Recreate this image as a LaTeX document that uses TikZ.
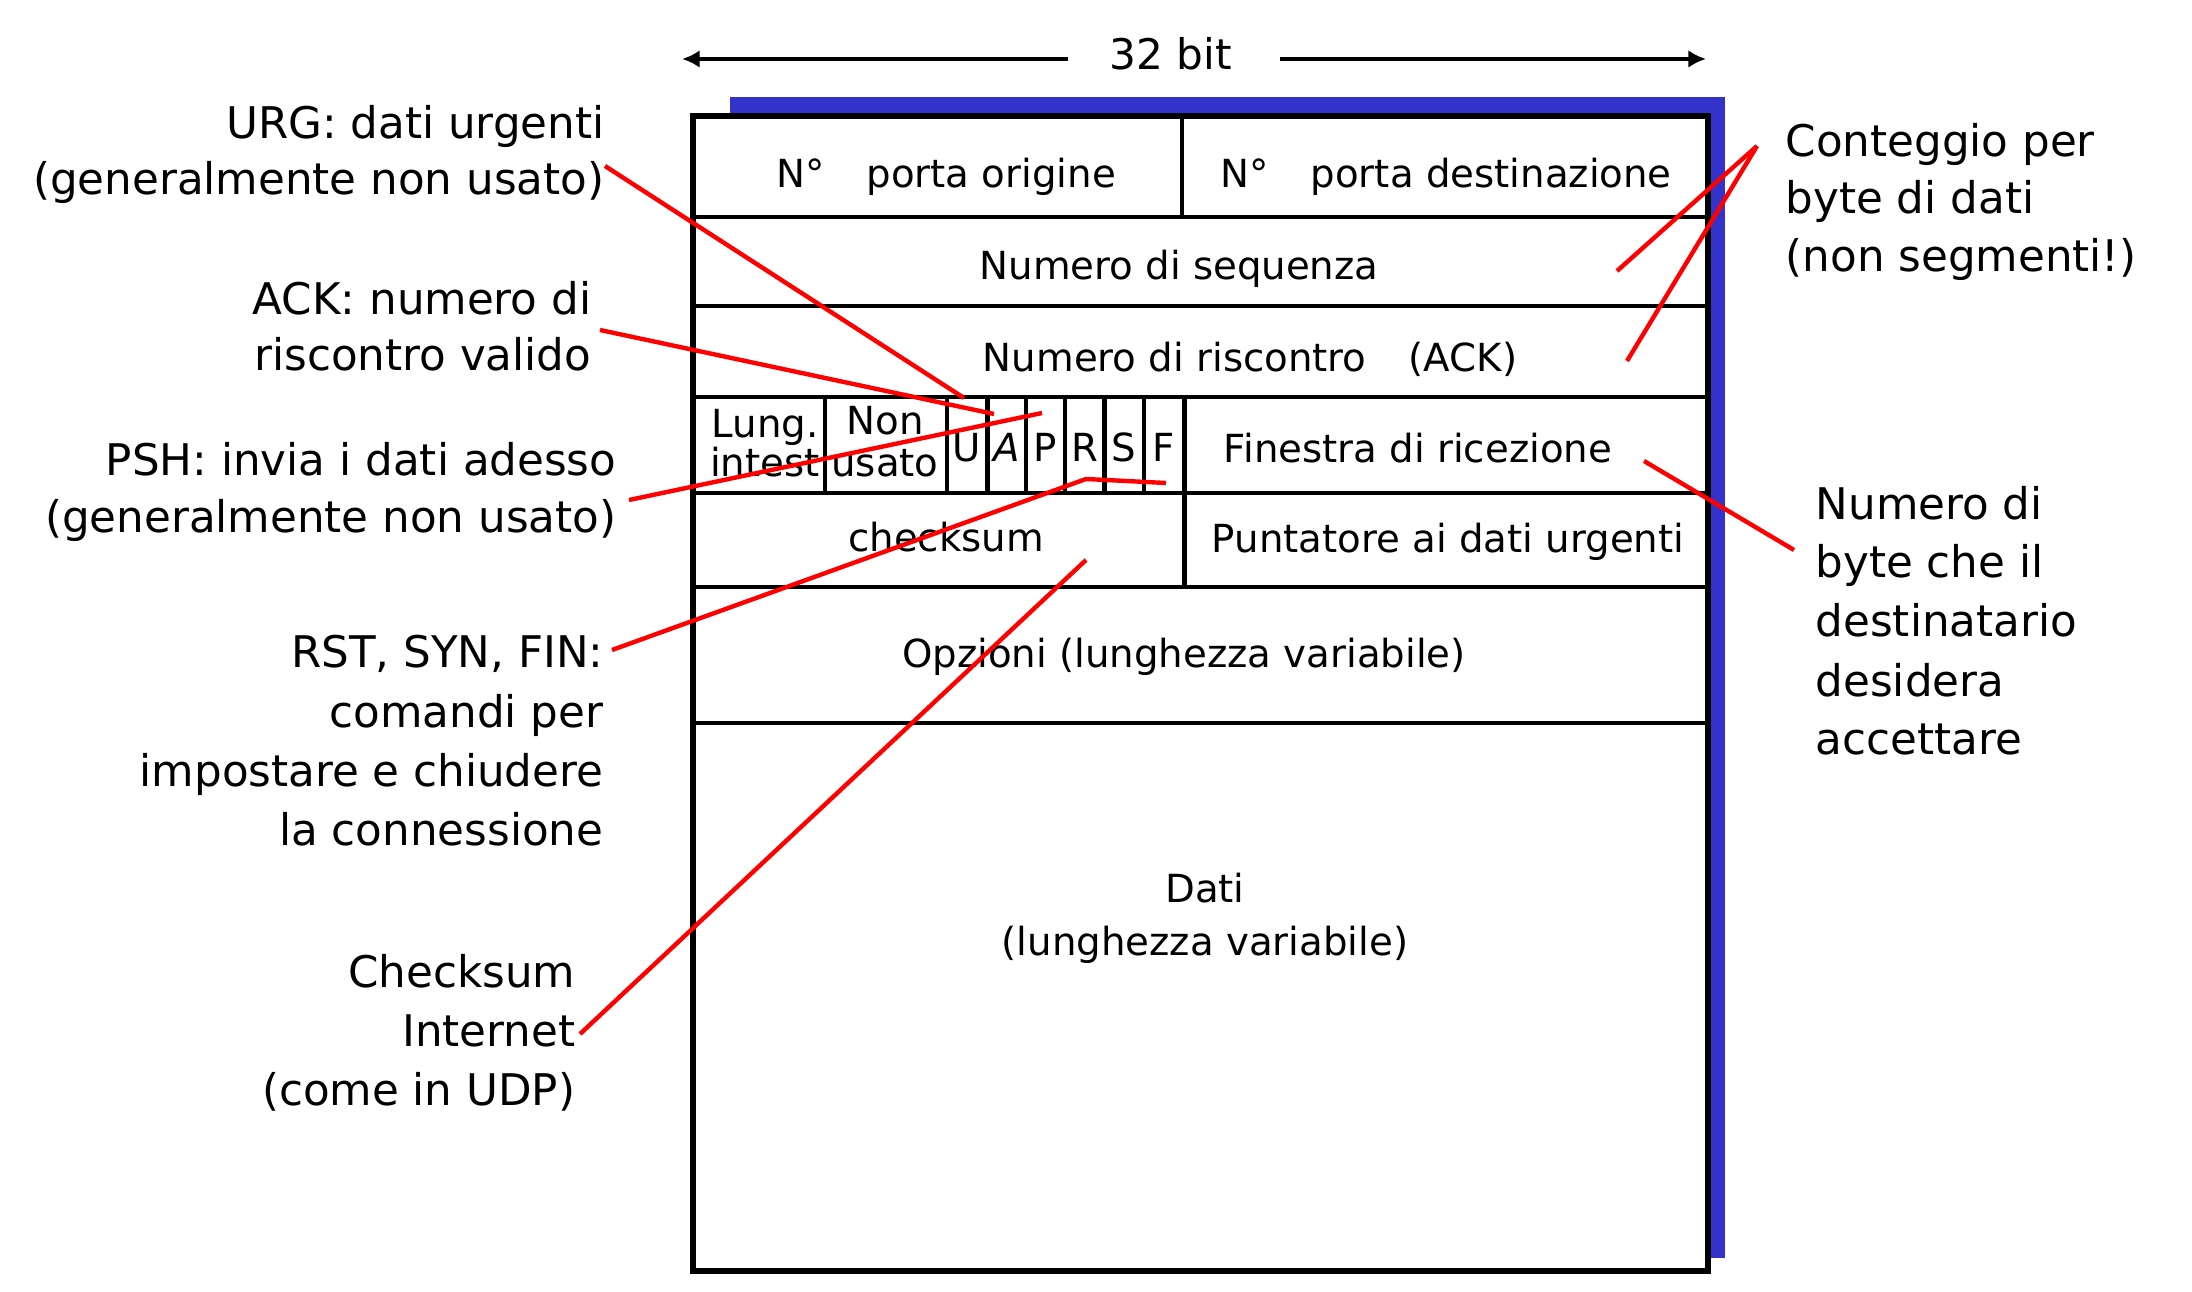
\documentclass[tikz,border=0pt]{standalone}
\usepackage{fontspec}
\setmainfont{DejaVu Sans}
\usetikzlibrary{arrows.meta}
\definecolor{shadowblue}{RGB}{51,51,204}
\definecolor{callred}{RGB}{255,0,0}
\begin{document}
\begin{tikzpicture}[x=0.01cm,y=-0.01cm,
  lbl/.style={inner sep=0pt, font=\fontsize{12.4}{15}\selectfont},
  lblL/.style={lbl, anchor=base east},
  lblR/.style={lbl, anchor=base west},
  cell/.style={inner sep=0pt, font=\fontsize{11}{13}\selectfont, anchor=base},
  outer/.style={line width=1.7pt},
  inner/.style={line width=1.25pt},
  thin/.style={line width=0.9pt},
  callout/.style={draw=callred, line width=1.25pt},
  dimline/.style={line width=1.2pt, -{Latex[length=5pt,width=5pt]}}]
\useasboundingbox (0,0) rectangle (2192,1292);
% shadow and box
\fill[shadowblue] (730,97) rectangle (1725,1258);
\draw[outer, fill=white] (693,116) rectangle (1707.5,1271);
% horizontal rows
\foreach \yy in {217,306,397,493,587,723}
  \draw[inner] (693,\yy) -- (1707.5,\yy);
% vertical dividers
\draw[thin] (1182,116) -- (1182,218);
\foreach \xx in {825,947,987.5,1026,1065,1104.5,1144}
  \draw[inner] (\xx,397) -- (\xx,493);
\draw[inner] (1184.5,397) -- (1184.5,587);
% 32 bit dimension
\node[cell, font=\fontsize{12}{14}\selectfont] (bit) at (1171,70) {32 bit};
\coordinate (lA) at (1068,59);
\coordinate (lB) at (682,59);
\coordinate (rA) at (1280,59);
\coordinate (rB) at (1706,59);
\draw[dimline] (lA) -- (lB);
\draw[dimline] (rA) -- (rB);
% cell texts
\node[cell] (porig) at (946,188) {N°\hspace{12pt}porta origine};
\node[cell] (pdest) at (1446,188) {N°\hspace{12pt}porta destinazione};
\node[cell] (seq) at (1179,280) {Numero di sequenza};
\node[cell] (ackn) at (1250,372) {Numero di riscontro\hspace{12pt}(ACK)};
\node[cell] (lung) at (765,438) {Lung.};
\node[cell] (intest) at (765,477) {intest};
\node[cell] (non) at (885,435) {Non};
\node[cell] (usato) at (885,477) {usato};
\node[cell] (fU) at (967,462) {U};
\node[cell] (fA) at (1007,462) {\itshape A};
\node[cell] (fP) at (1045.5,462) {P};
\node[cell] (fR) at (1085,462) {R};
\node[cell] (fS) at (1124,462) {S};
\node[cell] (fF) at (1164,462) {F};
\node[cell] (rwin) at (1418,463) {Finestra di ricezione};
\node[cell] (cks) at (946,552) {checksum};
\node[cell] (urgp) at (1448,553) {Puntatore ai dati urgenti};
\node[cell] (opt) at (1184,668) {Opzioni (lunghezza variabile)};
\node[cell] (dati) at (1205,902) {Dati};
\node[cell] (dati2) at (1205,955) {(lunghezza variabile)};
% left labels
\node[lblL] (urg1) at (605,139) {URG: dati urgenti};
\node[lblL] (urg2) at (605,195) {(generalmente non usato)};
\node[lblL] (ack1) at (592,315) {ACK: numero di};
\node[lblL] (ack2) at (592,371) {riscontro valido};
\node[lblL] (psh1) at (617,476) {PSH: invia i dati adesso};
\node[lblL] (psh2) at (617,533) {(generalmente non usato)};
\node[lblL] (rst1) at (604,668) {RST, SYN, FIN:};
\node[lblL] (rst2) at (604,727) {comandi per};
\node[lblL] (rst3) at (604,786) {impostare e chiudere};
\node[lblL] (rst4) at (604,845) {la connessione};
\node[lblL] (ck1) at (576,987) {Checksum};
\node[lblL] (ck2) at (576,1046) {Internet};
\node[lblL] (ck3) at (576,1105) {(come in UDP)};
% right labels
\node[lblR] (cnt1) at (1785,157) {Conteggio per};
\node[lblR] (cnt2) at (1785,214) {byte di dati};
\node[lblR] (cnt3) at (1785,272) {(non segmenti!)};
\node[lblR] (win1) at (1815,520) {Numero di};
\node[lblR] (win2) at (1815,578) {byte che il};
\node[lblR] (win3) at (1815,637) {destinatario};
\node[lblR] (win4) at (1815,696) {desidera};
\node[lblR] (win5) at (1815,754) {accettare};
% callout points
\coordinate (urgS) at (605,166);
\coordinate (urgE) at (964,398);
\coordinate (ackS) at (600,330);
\coordinate (ackE) at (994,414);
\coordinate (pshS) at (629,500);
\coordinate (pshE) at (1042,413);
\coordinate (rstS) at (612,650);
\coordinate (rstM) at (1086,479);
\coordinate (rstE) at (1166,483);
\coordinate (ckS) at (580,1034);
\coordinate (ckE) at (1086,560);
\coordinate (cntS) at (1757,146);
\coordinate (cntE1) at (1617,271);
\coordinate (cntE2) at (1627,361);
\coordinate (winS) at (1794,550);
\coordinate (winE) at (1644,461);
% callout lines
\draw[callout] (urgS) -- (urgE);
\draw[callout] (ackS) -- (ackE);
\draw[callout] (pshS) -- (pshE);
\draw[callout] (rstS) -- (rstM) -- (rstE);
\draw[callout] (ckS) -- (ckE);
\draw[callout] (cntS) -- (cntE1);
\draw[callout] (cntS) -- (cntE2);
\draw[callout] (winS) -- (winE);
\end{tikzpicture}
\end{document}
